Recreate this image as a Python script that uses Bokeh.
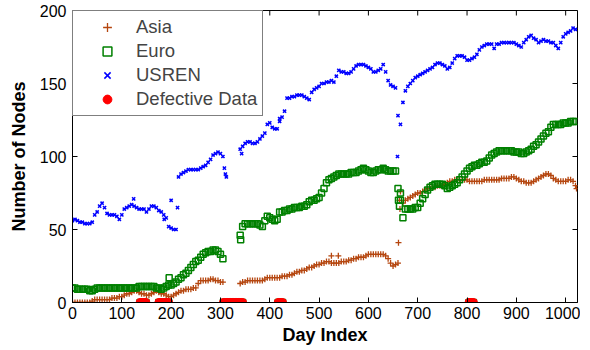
from bokeh.plotting import figure
from bokeh.models import Range1d, Legend, LegendItem, FixedTicker
from bokeh.embed import file_html
from bokeh.resources import INLINE
import math

nan = float("nan")

# Day index (one reading every 5 days)
days = list(range(0, 1021, 5))

usren = [
    56, 57, 56, 55, 55, 54, 54, 54, 55, 60,
    62, 66, 68, 65, 61, 60, 60, 60, 59, 57,
    60, 64, 65, 66, 67, 66, 65, 64, 64, 64,
    62, 64, 66, 66, 65, 63, 62, 60, 58, 52,
    51, 50, 50, 86, 88, 89, 90, 91, 91, 91,
    91, 91, 92, 93, 94, 96, 98, 101, 102, 103,
    102, 100, 88, nan, nan, nan, nan, nan, 105, 107,
    109, 110, 110, 109, 109, 110, 112, 114, 116, 122,
    123, 120, 119, 119, 124, 127, 131, 140, 140, 141,
    141, 142, 142, 142, 141, 140, 139, 144, 146, 147,
    148, 150, 150, 151, 151, 152, 151, 155, 159, 158,
    158, 157, 157, 158, 160, 162, 163, 163, 163, 162,
    161, 160, 158, 158, 159, 160, 163, 158, 152, 149,
    148, 147, 128, 122, 137, 145, 148, 150, 152, 154,
    155, 156, 157, 158, 159, 160, 161, 163, 164, 164,
    163, 162, 160, 161, 164, 167, 169, 169, 169, 168,
    166, 166, 167, 168, 170, 173, 175, 176, 177, 177,
    177, 174, 177, 177, 178, 178, 178, 178, 178, 178,
    177, 176, 175, 178, 180, 182, 183, 181, 180, 178,
    179, 180, 179, 179, 178, 178, 176, 174, 178, 182,
    184, 185, 186, 188, 187,
]

euro = [
    10, 10, 9, 9, 9, 9, 9, 8, 8, 9,
    10, 10, 10, 10, 10, 10, 10, 10, 10, 10,
    10, 10, 10, 10, 10, 10, 10, 11, 11, 11,
    11, 11, 11, 11, 10, 10, 9, 10, 11, 12,
    12, 13, 14, 16, 17, 19, 20, 22, 24, 26,
    28, 29, 31, 33, 34, 35, 35, 36, 36, 35,
    33, 30, nan, nan, nan, nan, nan, nan, 46, 52,
    54, 54, 54, 54, 54, 54, 53, 52, 56, 59,
    58, 57, 56, 57, 62, 62, 63, 63, 64, 64,
    65, 65, 65, 66, 66, 67, 69, 70, 70, 71,
    72, 75, 78, 82, 84, 85, 86, 87, 88, 88,
    88, 88, 88, 89, 89, 89, 90, 91, 92, 91,
    90, 89, 89, 90, 91, 91, 92, 91, 90, 90,
    90, 90, 78, 70, 58, 64, 64, 64, 64, 65,
    65, 68, 71, 74, 77, 79, 80, 81, 81, 81,
    81, 80, 78, 79, 80, 81, 82, 84, 86, 88,
    90, 92, 93, 94, 94, 95, 96, 96, 97, 99,
    101, 102, 103, 104, 104, 104, 104, 104, 104, 103,
    103, 103, 102, 102, 103, 104, 105, 107, 108, 110,
    112, 114, 116, 117, 120, 122, 122, 122, 122, 123,
    123, 123, 124, 124, 124,
]

asia = [
    0, 0, 0, 0, 0, 0, 0, 0, 1, 2,
    2, 2, 2, 2, 2, 2, 3, 3, 3, 4,
    4, 5, 6, 6, 7, 8, 8, 7, 6, 6,
    5, 5, 6, 7, 8, 7, 6, 6, 5, 4,
    4, 5, 6, 7, 8, 8, 9, 9, 9, 10,
    10, 13, 15, 15, 15, 15, 16, 16, 15, 15,
    14, 14, nan, nan, nan, nan, nan, nan, 13, 14,
    14, 15, 15, 15, 15, 15, 15, 15, 16, 17,
    17, 17, 17, 17, 17, 18, 18, 18, 19, 19,
    20, 21, 21, 22, 22, 23, 24, 24, 25, 26,
    26, 27, 27, 28, 28, 27, 27, 27, 27, 28,
    28, 28, 29, 29, 30, 30, 31, 31, 31, 32,
    33, 33, 33, 33, 33, 33, 33, 32, 30, 27,
    25, 26, 27, 76, 68, 70, 71, 72, 73, 74,
    75, 75, 76, 77, 78, 78, 79, 79, 80, 80,
    80, 81, 82, 83, 83, 84, 84, 84, 84, 84,
    84, 83, 83, 83, 83, 83, 83, 84, 84, 84,
    84, 84, 84, 84, 85, 85, 85, 85, 86, 86,
    85, 84, 83, 83, 82, 82, 82, 83, 84, 85,
    86, 87, 88, 88, 87, 85, 84, 83, 83, 83,
    83, 84, 84, 83, 80,
]

# isolated readings
usren_out_days = [124, 186, 200, 213, 308, 312, 343, 420, 659]
usren_out_vals = [71, 57, 70, 65, 92, 86, 102, 126, 100]
euro_out_days = [196, 341, 661, 663, 665]
euro_out_vals = [17, 43, 70, 66, 75]
asia_out_days = [525, 539, 661, 663, 664, 1022]
asia_out_vals = [32, 32, 41, 70, 64, 78]

# defective days (recorded as zero)
defect_days = [137, 140, 143, 146, 149, 175, 178, 181, 184, 189, 192, 195,
               306, 309, 312, 315, 318, 321, 324, 327, 330, 333, 336, 339, 342, 345,
               417, 420, 423, 426, 804, 807, 810, 813]
defect_vals = [0] * len(defect_days)

x_ticks = [0, 100, 200, 300, 400, 500, 600, 700, 800, 900, 1000]
y_ticks = [0, 50, 100, 150, 200]

ASIA_C = "#b5460f"
EURO_C = "#008000"
US_C = "#0000ff"
DEF_C = "#ff0000"
FONT = "Liberation Sans"

p = figure(width=580, height=348, output_backend="svg", toolbar_location=None,
           x_range=Range1d(0, 1024), y_range=Range1d(0, 200),
           min_border_left=72, min_border_right=3, min_border_top=10, min_border_bottom=46)
p.xgrid.visible = False
p.ygrid.visible = False
p.outline_line_color = "black"
p.outline_line_width = 1
p.background_fill_color = "white"

r_asia = p.scatter(days, asia, marker="cross", size=6, line_color=ASIA_C, line_width=1.3)
p.scatter(asia_out_days, asia_out_vals, marker="cross", size=6, line_color=ASIA_C, line_width=1.3)
r_euro = p.scatter(days, euro, marker="square", size=6, fill_color=None, line_color=EURO_C, line_width=1.5)
p.scatter(euro_out_days, euro_out_vals, marker="square", size=6, fill_color=None, line_color=EURO_C, line_width=1.5)
p.scatter(defect_days, defect_vals, marker="square", size=6, fill_color=None, line_color=EURO_C, line_width=1.5)
r_us = p.scatter(days, usren, marker="x", size=4.5, line_color=US_C, line_width=1.5)
p.scatter(usren_out_days, usren_out_vals, marker="x", size=4.5, line_color=US_C, line_width=1.5)
r_def = p.scatter(defect_days, defect_vals, marker="circle", size=8, fill_color=DEF_C, line_color=DEF_C)

# inward tick marks on top and right edges of the box
p.scatter(x_ticks, [p.y_range.end] * len(x_ticks), marker="dash", size=10, angle=math.pi / 2,
          line_color="black", line_width=1)
p.scatter([p.x_range.end] * len(y_ticks), y_ticks, marker="dash", size=10,
          line_color="black", line_width=1)

for ax in (p.xaxis[0], p.yaxis[0]):
    ax.major_tick_in = 5
    ax.major_tick_out = 0
    ax.minor_tick_line_color = None
    ax.major_label_text_font = FONT
    ax.major_label_text_font_size = "16px"
    ax.major_label_text_color = "black"
    ax.axis_label_text_font = FONT
    ax.axis_label_text_font_size = "18px"
    ax.axis_label_text_font_style = "bold"
    ax.axis_label_text_color = "black"
    ax.axis_line_color = "black"
    ax.major_tick_line_color = "black"

p.xaxis.ticker = FixedTicker(ticks=x_ticks)
p.yaxis.ticker = FixedTicker(ticks=y_ticks)
p.xaxis.axis_label = "Day Index"
p.yaxis.axis_label = "Number of Nodes"
p.xaxis.major_label_standoff = 4
p.yaxis.major_label_standoff = 6
p.xaxis.axis_label_standoff = 3
p.yaxis.axis_label_standoff = 8

legend = Legend(items=[
    LegendItem(label="Asia", renderers=[r_asia]),
    LegendItem(label="Euro", renderers=[r_euro]),
    LegendItem(label="USREN", renderers=[r_us]),
    LegendItem(label="Defective Data", renderers=[r_def]),
], location="top_left", margin=0, padding=5, spacing=2, glyph_height=22, glyph_width=58,
    label_height=22, label_standoff=0, label_text_font=FONT, label_text_font_size="18.5px",
    border_line_color="black", border_line_width=1, background_fill_color="white",
    background_fill_alpha=1)
p.add_layout(legend)

open("out.html", "w").write(file_html(p, INLINE))
